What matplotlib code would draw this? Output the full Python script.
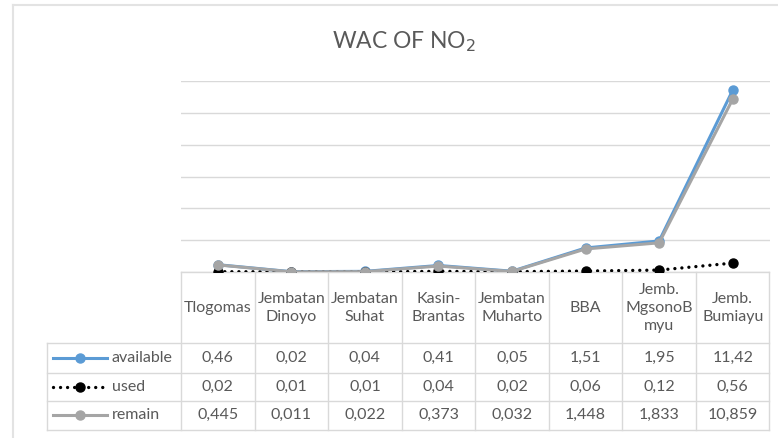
import matplotlib.pyplot as plt
from matplotlib.lines import Line2D
import numpy as np

plt.rcParams['font.family'] = ['Lato', 'DejaVu Sans']

sites = ['Tlogomas', 'Jembatan\nDinoyo', 'Jembatan\nSuhat', 'Kasin-\nBrantas',
         'Jembatan\nMuharto', 'BBA', 'Jemb.\nMgsonoB\nmyu', 'Jemb.\nBumiayu']
available = [0.46, 0.02, 0.04, 0.41, 0.05, 1.51, 1.95, 11.42]
used = [0.02, 0.01, 0.01, 0.04, 0.02, 0.06, 0.12, 0.56]
remain = [0.445, 0.011, 0.022, 0.373, 0.032, 1.448, 1.833, 10.859]
available_txt = ['0,46', '0,02', '0,04', '0,41', '0,05', '1,51', '1,95', '11,42']
used_txt = ['0,02', '0,01', '0,01', '0,04', '0,02', '0,06', '0,12', '0,56']
remain_txt = ['0,445', '0,011', '0,022', '0,373', '0,032', '1,448', '1,833', '10,859']

W, H = 778, 438
BLUE = '#5B9BD5'
GREY = '#A5A5A5'
TXT = '#595959'
GRID = '#D9D9D9'
FS = 11.5
DOT = dict(color='black', lw=2.4, ls=(0, (0.01, 2.1)), dash_capstyle='round')

fig = plt.figure(figsize=(W / 100, H / 100), dpi=100)

# pixel-coordinate overlay for frame, title and data table
tab = fig.add_axes([0, 0, 1, 1])
tab.set_xlim(0, W)
tab.set_ylim(H, 0)
tab.axis('off')

# chart frame (only top/left visible in the crop)
tab.plot([12.7, W], [5, 5], color='#E3E3E3', lw=1.5)
tab.plot([12.7, 12.7], [5, H], color='#E3E3E3', lw=1.5)

tab.text(404, 42, 'WAC OF NO$_2$', ha='center', va='center', fontsize=16.5, color=TXT)

# main line chart
x0, x1 = 181, 769.5
ytop, ybot = 81, 272
ax = fig.add_axes([x0 / W, 1 - ybot / H, (x1 - x0) / W, (ybot - ytop) / H])
ax.patch.set_alpha(0)
xs = np.arange(len(sites))
ax.plot(xs, available, color=BLUE, lw=2.2, marker='o', ms=6.5, zorder=3)
ax.plot(xs, used, marker='o', ms=6.5, zorder=4, **DOT)
ax.plot(xs, remain, color=GREY, lw=2.2, marker='o', ms=6.5, zorder=5)
ax.set_xlim(-0.5, len(sites) - 0.5)
ax.set_ylim(0, 12)
ax.set_yticks(np.arange(0, 13, 2))
ax.grid(axis='y', color=GRID, lw=1)
ax.set_axisbelow(True)
ax.tick_params(left=False, bottom=False, labelleft=False, labelbottom=False)
for s in ax.spines.values():
    s.set_visible(False)

# data table
col_w = (x1 - x0) / len(sites)
lab_x = 46.7
rows_y = [271.7, 343, 372.5, 401, 429.5]
tc = dict(color=GRID, lw=1, zorder=1)
tab.plot([x0, x1], [rows_y[0], rows_y[0]], **tc)
for y in rows_y[1:]:
    tab.plot([lab_x, x1], [y, y], **tc)
tab.plot([lab_x, lab_x], [rows_y[1], rows_y[-1]], **tc)
for i in range(len(sites) + 1):
    xv = x0 + i * col_w
    tab.plot([xv, xv], [rows_y[0], rows_y[-1]], **tc)

for i, name in enumerate(sites):
    cx = x0 + (i + 0.5) * col_w
    tab.text(cx, (rows_y[0] + rows_y[1]) / 2 + 1, name, ha='center', va='center',
             fontsize=FS, color=TXT, linespacing=1.35)
    for r, vals in enumerate([available_txt, used_txt, remain_txt]):
        tab.text(cx, (rows_y[r + 1] + rows_y[r + 2]) / 2, vals[i], ha='center',
                 va='center', fontsize=FS, color=TXT)

keys = [('available', dict(color=BLUE, lw=2.2)),
        ('used', DOT),
        ('remain', dict(color=GREY, lw=2.2))]
for r, (lab, st) in enumerate(keys):
    yc = (rows_y[r + 1] + rows_y[r + 2]) / 2
    tab.add_line(Line2D([53, 107], [yc, yc], **st))
    tab.add_line(Line2D([80], [yc], color=st['color'], ls='none', marker='o', ms=6.5))
    tab.text(112, yc, lab, ha='left', va='center', fontsize=FS, color=TXT)

fig.savefig('out.png', dpi=100)
